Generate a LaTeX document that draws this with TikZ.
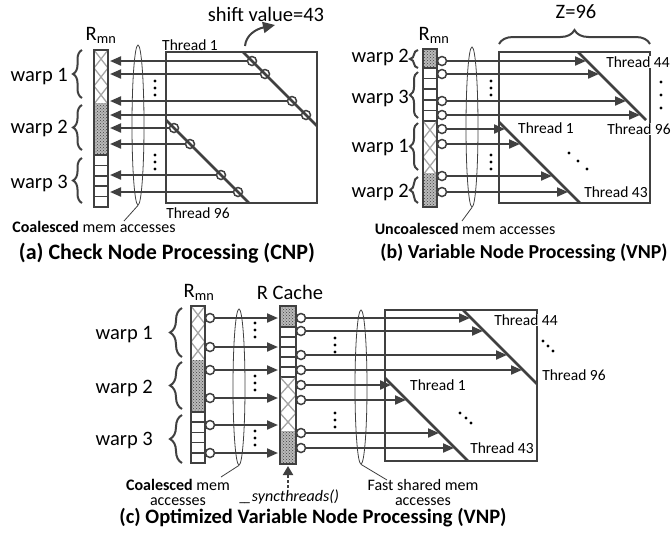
\documentclass[tikz,border=0pt]{standalone}
\usepackage{fontspec}
\setmainfont{Carlito}
\usetikzlibrary{arrows.meta,patterns,decorations.pathreplacing,shapes.geometric}
\definecolor{dkgray}{HTML}{404040}
\definecolor{zggray}{HTML}{A6A6A6}

\newcommand{\zigcells}[4]{%
  \begin{scope}
    \clip (#1,#3) rectangle (#2,#4);
    \foreach \k in {0,...,3}{
      \draw[zggray,line width=1.3pt] (#1,#3+36*\k) -- (#2,#3+36*\k+18) -- (#1,#3+36*\k+36);
      \draw[zggray,line width=1.3pt] (#2,#3+36*\k) -- (#1,#3+36*\k+18) -- (#2,#3+36*\k+36);
    }
  \end{scope}}
\newcommand{\dotcells}[4]{%
  \fill[gray!55] (#1,#3) rectangle (#2,#4);
  \fill[pattern=crosshatch dots,pattern color=dkgray] (#1,#3) rectangle (#2,#4);}
\newcommand{\rowcells}[4]{%
  \foreach \k in {0,...,5}
    \draw[dkgray,line width=1.6pt] (#1,{#3+\k*(#4-#3)/5}) -- (#2,{#3+\k*(#4-#3)/5});}

\begin{document}
\begin{tikzpicture}[x=1pt,y=-1pt,
  ln/.style={draw=dkgray,line width=2pt},
  arr/.style={ln,-{Triangle[length=11pt,width=9pt]}},
  mtx/.style={draw=dkgray,line width=2.5pt},
  colframe/.style={draw=dkgray,line width=2.5pt},
  port/.style={circle,draw=dkgray,fill=white,line width=1.5pt,inner sep=0pt,minimum size=9pt},
  hit/.style={port,fill=none},
  ell/.style={ellipse,draw=dkgray,line width=0.8pt,inner sep=0pt,minimum width=12pt},
  ptr/.style={draw=dkgray,line width=0.8pt},
  brc/.style={draw=dkgray,line width=2pt,decorate,decoration={brace,amplitude=#1}},
  big/.style={font=\fontsize{20.5}{24}\selectfont,inner sep=1pt},
  thr/.style={font=\fontsize{15.5}{18}\selectfont,inner sep=1pt},
  note/.style={font=\fontsize{16}{15}\selectfont,align=center,inner sep=1pt},
  ttl/.style={font=\fontsize{#1}{26}\selectfont\bfseries,inner sep=1pt}]
\useasboundingbox (0,0) rectangle (672,539);

\node[big] (sv) at (266,14) {shift value=43};
\coordinate (svs) at (245,46);
\coordinate (sve) at (275,25);
\draw[ln,-{Triangle[length=12pt,width=11pt]}] (svs) .. controls (246,35) and (256,29) .. (sve);
\node[big] (rma) at (101,35) {R\textsubscript{mn}};
\zigcells{94}{108}{50}{103}
\dotcells{94}{108}{103}{155}
\rowcells{94}{108}{155}{207}
\draw[colframe] (94,50) rectangle (108,207);
\draw[brc=9pt] (82,98) -- (82,50);
\draw[brc=9pt] (82,150) -- (82,105);
\draw[brc=9pt] (82,203) -- (82,158);
\node[big,anchor=east] (w1a) at (69,77) {warp 1};
\node[big,anchor=east] (w2a) at (69,128) {warp 2};
\node[big,anchor=east] (w3a) at (69,183) {warp 3};
\draw[mtx] (166,52) rectangle (317,203);
\draw[mtx] (243,52) -- (317,126);
\draw[mtx] (166,120) -- (249,203);
\foreach \y [count=\i] in {61,74,101,115}
  \node[hit] (ha\i) at (\y+191,\y) {};
\foreach \y [count=\i from 5] in {128,144,175,192}
  \node[hit] (ha\i) at (\y+46,\y) {};
\foreach \y [count=\i] in {61,74,101,115,128,144,175,192}{
  \coordinate (ta\i) at (110,\y);
  \draw[arr] (ha\i) -- (ta\i);
}
\foreach \y in {81,88,95,155,162,169}
  \fill (155,\y) circle (1.6pt);
\node[ell,minimum height=160pt] (ea) at (138,125) {};
\node[thr] (t1a) at (190,45) {Thread 1};
\node[thr] (t96a) at (198,213) {Thread 96};
\node[note] (ca) at (94,227) {\textbf{Coalesced} mem accesses};
\coordinate (ptra) at (124,221);
\draw[ptr] (ea.south) -- (ptra);
\node[ttl=22] (capa) at (167,253) {(a) Check Node Processing (CNP)};

\node[big] (zb) at (576,12) {Z=96};
\draw[brc=14pt] (499,44) -- (650,44);
\node[big] (rmb) at (434,35) {R\textsubscript{mn}};
\dotcells{423}{437}{49}{68}
\rowcells{423}{437}{68}{121}
\zigcells{423}{437}{121}{173}
\dotcells{423}{437}{173}{207}
\draw[colframe] (423,49) rectangle (437,207);
\draw[brc=8pt] (418,68) -- (418,50);
\draw[brc=8pt] (418,118) -- (418,72);
\draw[brc=8pt] (418,170) -- (418,123);
\draw[brc=8pt] (418,203) -- (418,177);
\node[big,anchor=east] (w2b) at (410,57) {warp 2};
\node[big,anchor=east] (w3b) at (410,98) {warp 3};
\node[big,anchor=east] (w1b) at (410,148) {warp 1};
\node[big,anchor=east] (w4b) at (410,192) {warp 2};
\draw[mtx] (499,52) rectangle (650,203);
\draw[mtx] (578,52) -- (646,120);
\draw[mtx] (499,122) -- (580,203);
\foreach \y [count=\i] in {61,74,101,115,129,144,176,192}
  \node[port] (pb\i) at (442,\y) {};
\foreach \y [count=\i] in {61,74,101,115}{
  \coordinate (tb\i) at (\y+525,\y);
  \draw[arr] (pb\i) -- (tb\i);
}
\foreach \y [count=\i from 5] in {129,144,176,192}{
  \coordinate (tb\i) at (\y+376,\y);
  \draw[arr] (pb\i) -- (tb\i);
}
\foreach \y in {81,88,95,155,162,169}
  \fill (491,\y) circle (1.6pt);
\foreach \y in {82,95,108}
  \fill (661,\y) circle (1.6pt);
\foreach \p in {(569,153),(578,161),(587,169)}
  \fill \p circle (1.6pt);
\node[ell,minimum height=160pt] (eb) at (472,127) {};
\node[thr] (t1b) at (546,128) {Thread 1};
\node[thr,fill=white] (t44b) at (638,62) {Thread 44};
\node[thr,fill=white] (t96b) at (639,129) {Thread 96};
\node[thr] (t43b) at (616,192) {Thread 43};
\node[note] (cb) at (465,229) {\textbf{Uncoalesced} mem accesses};
\coordinate (ptrb) at (462,221);
\draw[ptr] (eb.south) -- (ptrb);
\node[ttl=19.8] (capb) at (524,253) {(b) Variable Node Processing (VNP)};

\node[big] (rmc) at (199,292) {R\textsubscript{mn}};
\node[big] (rcc) at (290,292) {R Cache};
\zigcells{191}{205}{306}{360}
\dotcells{191}{205}{360}{412}
\rowcells{191}{205}{412}{463}
\draw[colframe] (191,306) rectangle (205,463);
\dotcells{280}{296}{306}{327}
\rowcells{280}{296}{327}{377}
\zigcells{280}{296}{377}{431}
\dotcells{280}{296}{431}{464}
\draw[colframe] (280,306) rectangle (296,464);
\draw[brc=12pt] (182,357) -- (182,308);
\draw[brc=12pt] (182,409) -- (182,362);
\draw[brc=12pt] (182,463) -- (182,415);
\node[big,anchor=east] (w1c) at (154,335) {warp 1};
\node[big,anchor=east] (w2c) at (154,388) {warp 2};
\node[big,anchor=east] (w3c) at (154,440) {warp 3};
\foreach \y [count=\i] in {318,347,370,398,425,453}{
  \node[port] (pr\i) at (210,\y) {};
  \coordinate (tr\i) at (278,\y);
  \draw[arr] (pr\i) -- (tr\i);
}
\draw[mtx] (385,310) rectangle (537,461);
\draw[mtx] (463,310) -- (537,384);
\draw[mtx] (385,378) -- (468,461);
\foreach \y [count=\i] in {318,331,355,370,385,400,433,448}
  \node[port] (pc\i) at (301,\y) {};
\foreach \y [count=\i] in {318,331,355,370}{
  \coordinate (tc\i) at (\y+152,\y);
  \draw[arr] (pc\i) -- (tc\i);
}
\foreach \y [count=\i from 5] in {385,400,433,448}{
  \coordinate (tc\i) at (\y+6,\y);
  \draw[arr] (pc\i) -- (tc\i);
}
\foreach \y in {323,330,337,376,383,390,431,438,445}
  \fill (255,\y) circle (1.6pt);
\foreach \y in {338,345,352,413,420,427}
  \fill (335,\y) circle (1.6pt);
\foreach \p in {(543,341),(548,346),(553,351),(460,413),(466,418),(471,423)}
  \fill \p circle (1.6pt);
\node[ell,minimum height=156pt] (ec) at (239,387) {};
\node[ell,minimum height=154pt] (ed) at (361,387) {};
\node[thr,fill=white] (t44c) at (526,320) {Thread 44};
\node[thr] (t96c) at (574,375) {Thread 96};
\node[thr] (t1c) at (438,385) {Thread 1};
\node[thr] (t43c) at (502,448) {Thread 43};
\node[note] (cc) at (178,492) {\textbf{Coalesced} mem\\accesses};
\coordinate (ptrc) at (221,477);
\draw[ptr] (ec.south) -- (ptrc);
\node[note] (cd) at (423,492) {Fast shared mem\\accesses};
\coordinate (ptrd) at (387,480);
\draw[ptr] (ed.south) -- (ptrd);
\node[note,font=\fontsize{16}{15}\selectfont\itshape] (sync) at (289,497) {\_\kern-3pt\_syncthreads()};
\coordinate (syb) at (288,488);
\coordinate (rcb) at (288,466);
\draw[ln,densely dashed,-{Triangle[length=9pt,width=10pt]}] (syb) -- (rcb);
\node[ttl=20.5] (capc) at (313,518) {(c) Optimized Variable Node Processing (VNP)};
\end{tikzpicture}
\end{document}
